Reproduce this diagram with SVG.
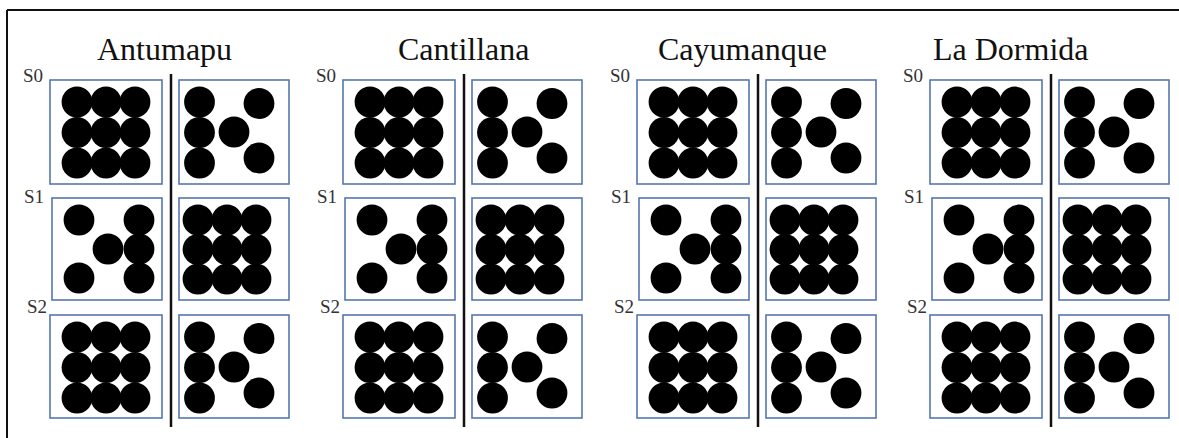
<svg xmlns="http://www.w3.org/2000/svg" xmlns:xlink="http://www.w3.org/1999/xlink" width="1179" height="438" viewBox="0 0 1179 438">
<style>
.box{fill:#fff;stroke:#5577b0;stroke-width:1.6}
.div{stroke:#111;stroke-width:2.5}
.title{font-family:"Liberation Serif",serif;font-size:32px;fill:#111}
.lab{font-family:"Liberation Serif",serif;font-size:19px;fill:#333}
.d{fill:#000}
</style>
<defs>
<g id="grid" class="d">
<circle cx="27" cy="22" r="15.4"/><circle cx="56" cy="22" r="15.4"/><circle cx="85" cy="22" r="15.4"/>
<circle cx="27" cy="52.5" r="15.4"/><circle cx="56" cy="52.5" r="15.4"/><circle cx="85" cy="52.5" r="15.4"/>
<circle cx="27" cy="83" r="15.4"/><circle cx="56" cy="83" r="15.4"/><circle cx="85" cy="83" r="15.4"/>
</g>
<g id="five" class="d">
<circle cx="20.5" cy="22" r="15.4"/><circle cx="20.5" cy="52.5" r="15.4"/><circle cx="20.5" cy="83" r="15.4"/>
<circle cx="55" cy="52" r="15.4"/><circle cx="80" cy="23.5" r="15.4"/><circle cx="80" cy="78" r="15.4"/>
</g>
<g id="fiveR" class="d">
<circle cx="29" cy="22" r="15.4"/><circle cx="58" cy="51" r="15.4"/><circle cx="29" cy="80" r="15.4"/>
<circle cx="89" cy="22" r="15.4"/><circle cx="89" cy="51" r="15.4"/><circle cx="89" cy="80" r="15.4"/>
</g>
<g id="gridS" class="d">
<circle cx="19" cy="22" r="15.4"/><circle cx="48" cy="22" r="15.4"/><circle cx="77" cy="22" r="15.4"/>
<circle cx="19" cy="51.5" r="15.4"/><circle cx="48" cy="51.5" r="15.4"/><circle cx="77" cy="51.5" r="15.4"/>
<circle cx="19" cy="81" r="15.4"/><circle cx="48" cy="81" r="15.4"/><circle cx="77" cy="81" r="15.4"/>
</g>
<g id="panel">
<line class="div" x1="121" y1="74" x2="121" y2="427"/>
<rect class="box" x="0" y="80" width="112" height="104"/>
<rect class="box" x="129" y="80" width="110" height="104"/>
<rect class="box" x="2" y="198" width="110" height="102"/>
<rect class="box" x="129" y="198" width="110" height="102"/>
<rect class="box" x="0" y="315" width="112" height="103"/>
<rect class="box" x="129" y="315" width="110" height="103"/>
<use xlink:href="#grid" x="0" y="80"/>
<use xlink:href="#five" x="129" y="80"/>
<use xlink:href="#fiveR" x="0" y="198"/>
<use xlink:href="#gridS" x="129" y="198"/>
<use xlink:href="#grid" x="0" y="315"/>
<use xlink:href="#five" x="129" y="315"/>
<text class="lab" x="-27" y="82">S0</text>
<text class="lab" x="-26" y="203">S1</text>
<text class="lab" x="-23" y="313">S2</text>
</g>
</defs>
<g id="frame" fill="none" stroke="#111" stroke-width="2">
<line x1="7" y1="10" x2="1179" y2="10"/>
<line x1="7" y1="10" x2="7" y2="438"/>
</g>
<g id="antumapu" transform="translate(50,0)">
<use xlink:href="#panel"/>
<text class="title" x="47" y="60">Antumapu</text>
</g>
<g id="cantillana" transform="translate(343,0)">
<use xlink:href="#panel"/>
<text class="title" x="55" y="60">Cantillana</text>
</g>
<g id="cayumanque" transform="translate(637,0)">
<use xlink:href="#panel"/>
<text class="title" x="21" y="60">Cayumanque</text>
</g>
<g id="ladormida" transform="translate(930,0)">
<use xlink:href="#panel"/>
<text class="title" x="3" y="60">La Dormida</text>
</g>
</svg>
